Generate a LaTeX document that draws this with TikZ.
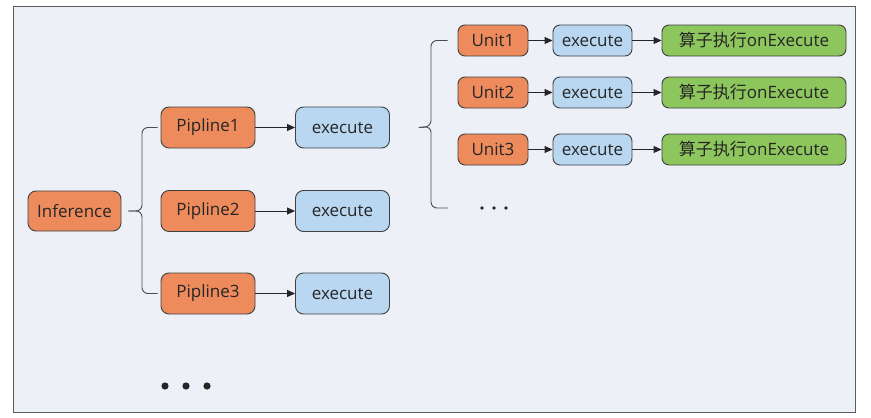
\documentclass[tikz,border=0pt]{standalone}
\usepackage{fontspec}
\setmainfont{Open Sans}
\newfontfamily\cjk{Noto Sans CJK SC}
\usetikzlibrary{arrows.meta}

\definecolor{panelbg}{HTML}{EEF0F7}
\definecolor{panelline}{HTML}{5C5C60}
\definecolor{orangefill}{HTML}{EE8B5C}
\definecolor{bluefill}{HTML}{BAD7F2}
\definecolor{greenfill}{HTML}{8DC65C}

\begin{document}
\begin{tikzpicture}[x=1pt, y=-1pt,
    box/.style={draw=black!75, line width=0.9pt, rounded corners=8pt, inner sep=0pt,
        font=\fontsize{17}{20}\selectfont, text=black!85},
    orangebox/.style={box, fill=orangefill},
    bluebox/.style={box, fill=bluefill},
    greenbox/.style={box, fill=greenfill},
    big/.style={minimum width=94pt, minimum height=41pt},
    small/.style={minimum height=31pt, rounded corners=7pt},
    link/.style={line width=0.9pt, black!85, -{Triangle[length=8pt, width=7pt]}},
    brace/.style={line width=0.9pt, black!70, rounded corners=6pt}]

    \useasboundingbox (0,0) rectangle (871,418);
    \draw[panelline, fill=panelbg, line width=1pt] (13,6) rectangle (855,412);

    % --- left part: Inference -> Pipline -> execute ---
    \node[orangebox, minimum width=93pt, minimum height=40pt] (inf) at (74.5,211) {Inference};

    \node[orangebox, big] (p1) at (208,127.5) {Pipline1};
    \node[orangebox, big] (p2) at (208,211) {Pipline2};
    \node[orangebox, big] (p3) at (208,293.5) {Pipline3};

    \node[bluebox, big] (e1) at (342.5,127.5) {execute};
    \node[bluebox, big] (e2) at (342.5,211) {execute};
    \node[bluebox, big] (e3) at (342.5,293.5) {execute};

    \foreach \i in {1,2,3}
        \draw[link] (p\i) -- (e\i);

    % brace from Inference to the three pipelines
    \coordinate (lb) at ([xshift=7pt]inf.east);
    \draw[brace] (lb) -- (142,211) |- ([xshift=-3pt]p1.west);
    \draw[brace] (lb) -- (142,211) |- ([xshift=-3pt]p3.west);

    % dots below
    \foreach \x in {165,186,207}
        \fill[black!85] (\x,386) circle (3.6pt);

    % --- right part: Unit -> execute -> 算子执行 ---
    \node[orangebox, small, minimum width=70pt] (u1) at (493,40.5) {Unit1};
    \node[orangebox, small, minimum width=70pt] (u2) at (493,92.5) {Unit2};
    \node[orangebox, small, minimum width=70pt] (u3) at (493,149.5) {Unit3};

    \node[bluebox, small, minimum width=79pt] (x1) at (592.5,40.5) {execute};
    \node[bluebox, small, minimum width=79pt] (x2) at (592.5,92.5) {execute};
    \node[bluebox, small, minimum width=79pt] (x3) at (592.5,149.5) {execute};

    \node[greenbox, small, minimum width=184pt] (g1) at (754,40.5) {{\cjk 算子执行}onExecute};
    \node[greenbox, small, minimum width=184pt] (g2) at (754,92.5) {{\cjk 算子执行}onExecute};
    \node[greenbox, small, minimum width=184pt] (g3) at (754,149.5) {{\cjk 算子执行}onExecute};

    \foreach \i in {1,2,3} {
        \draw[link] (u\i) -- (x\i);
        \draw[link] (x\i) -- (g\i);
    }

    % small dots for more units
    \coordinate (ud) at (482,208);
    \foreach \x in {482,494,506}
        \fill[black!85] (\x,208) circle (1.9pt);

    % brace from first execute to the units
    \coordinate (rb) at ([xshift=29pt]e1.east);
    \draw[brace] (rb) -- (431,126.5) |- ([xshift=-10pt]u1.west);
    \draw[brace] (rb) -- (431,126.5) |- ([xshift=-34pt]ud);

\end{tikzpicture}
\end{document}
